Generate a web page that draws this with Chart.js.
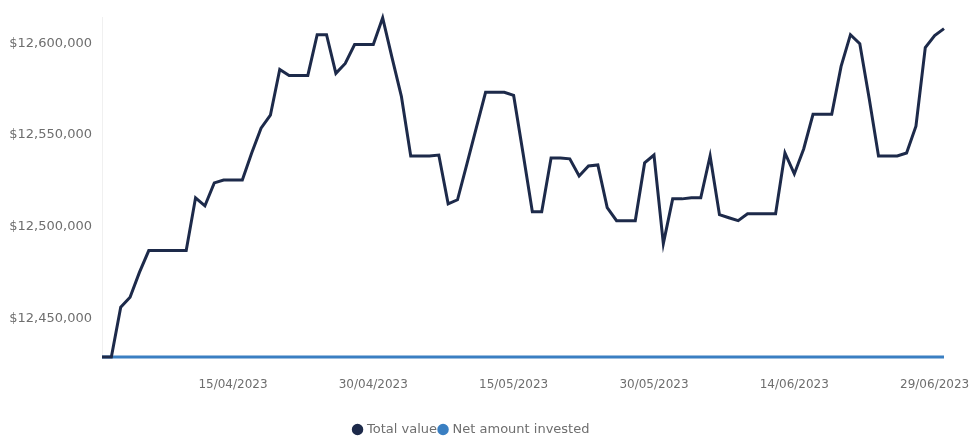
<!DOCTYPE html>
<html>
<head>
<meta charset="utf-8">
<script src="https://cdn.jsdelivr.net/npm/chart.js@4.4.0/dist/chart.umd.min.js"></script>
<style>
  html, body { margin: 0; padding: 0; background: #fff; overflow: hidden; }
  .chart-wrap { position: relative; width: 971px; height: 446px; }
</style>
</head>
<body>
<div class="chart-wrap"><canvas id="valueChart"></canvas></div>
<script>
const dates = [
    '01/04/2023', '02/04/2023', '03/04/2023', '04/04/2023', '05/04/2023', '06/04/2023', '07/04/2023', '08/04/2023', '09/04/2023', '10/04/2023',
    '11/04/2023', '12/04/2023', '13/04/2023', '14/04/2023', '15/04/2023', '16/04/2023', '17/04/2023', '18/04/2023', '19/04/2023', '20/04/2023',
    '21/04/2023', '22/04/2023', '23/04/2023', '24/04/2023', '25/04/2023', '26/04/2023', '27/04/2023', '28/04/2023', '29/04/2023', '30/04/2023',
    '01/05/2023', '02/05/2023', '03/05/2023', '04/05/2023', '05/05/2023', '06/05/2023', '07/05/2023', '08/05/2023', '09/05/2023', '10/05/2023',
    '11/05/2023', '12/05/2023', '13/05/2023', '14/05/2023', '15/05/2023', '16/05/2023', '17/05/2023', '18/05/2023', '19/05/2023', '20/05/2023',
    '21/05/2023', '22/05/2023', '23/05/2023', '24/05/2023', '25/05/2023', '26/05/2023', '27/05/2023', '28/05/2023', '29/05/2023', '30/05/2023',
    '31/05/2023', '01/06/2023', '02/06/2023', '03/06/2023', '04/06/2023', '05/06/2023', '06/06/2023', '07/06/2023', '08/06/2023', '09/06/2023',
    '10/06/2023', '11/06/2023', '12/06/2023', '13/06/2023', '14/06/2023', '15/06/2023', '16/06/2023', '17/06/2023', '18/06/2023', '19/06/2023',
    '20/06/2023', '21/06/2023', '22/06/2023', '23/06/2023', '24/06/2023', '25/06/2023', '26/06/2023', '27/06/2023', '28/06/2023', '29/06/2023',
    '30/06/2023'
];

const shownDates = ['15/04/2023', '30/04/2023', '15/05/2023', '30/05/2023', '14/06/2023', '29/06/2023'];
const yTicks = [12450000, 12500000, 12550000, 12600000];

const totalValue = [
    12429000, 12429000, 12456100, 12461600, 12475100, 12487000, 12487000, 12487000, 12487000, 12487000,
    12515800, 12511400, 12523900, 12525500, 12525500, 12525500, 12540200, 12553700, 12560800, 12585700,
    12582500, 12582500, 12582500, 12604700, 12604700, 12583600, 12589000, 12599300, 12599300, 12599300,
    12613900, 12592200, 12571100, 12538600, 12538600, 12538600, 12539100, 12512500, 12514700, 12534200,
    12553700, 12573300, 12573300, 12573300, 12571600, 12540200, 12508200, 12508200, 12537500, 12537500,
    12537000, 12527700, 12533100, 12533700, 12510400, 12503300, 12503300, 12503300, 12534800, 12539100,
    12490800, 12515200, 12515200, 12515800, 12515800, 12538600, 12506600, 12504900, 12503300, 12507100,
    12507100, 12507100, 12507100, 12540200, 12528800, 12542400, 12561300, 12561300, 12561300, 12587400,
    12604700, 12599800, 12570000, 12538600, 12538600, 12538600, 12540200, 12554800, 12597700, 12604200,
    12608000
];

const netInvested = [
    12429000, 12429000, 12429000, 12429000, 12429000, 12429000, 12429000, 12429000, 12429000, 12429000,
    12429000, 12429000, 12429000, 12429000, 12429000, 12429000, 12429000, 12429000, 12429000, 12429000,
    12429000, 12429000, 12429000, 12429000, 12429000, 12429000, 12429000, 12429000, 12429000, 12429000,
    12429000, 12429000, 12429000, 12429000, 12429000, 12429000, 12429000, 12429000, 12429000, 12429000,
    12429000, 12429000, 12429000, 12429000, 12429000, 12429000, 12429000, 12429000, 12429000, 12429000,
    12429000, 12429000, 12429000, 12429000, 12429000, 12429000, 12429000, 12429000, 12429000, 12429000,
    12429000, 12429000, 12429000, 12429000, 12429000, 12429000, 12429000, 12429000, 12429000, 12429000,
    12429000, 12429000, 12429000, 12429000, 12429000, 12429000, 12429000, 12429000, 12429000, 12429000,
    12429000, 12429000, 12429000, 12429000, 12429000, 12429000, 12429000, 12429000, 12429000, 12429000,
    12429000
];

const xFont = { family: "'DejaVu Sans', sans-serif", size: 12 };
const yFont = { family: "'DejaVu Sans', sans-serif", size: 13 };
const tickColor = '#6e6e6e';

const ctx = document.getElementById('valueChart').getContext('2d');
new Chart(ctx, {
    type: 'line',
    data: {
        labels: dates,
        datasets: [
            { label: 'Total value', data: totalValue, borderColor: '#1d2a4a', backgroundColor: '#1d2a4a', borderWidth: 3, pointRadius: 0, tension: 0, clip: false },
            { label: 'Net amount invested', data: netInvested, borderColor: '#3a7fc2', backgroundColor: '#3a7fc2', borderWidth: 3, pointRadius: 0, tension: 0, clip: false }
        ]
    },
    options: {
        responsive: true, maintainAspectRatio: false, animation: false,
        layout: { padding: { top: 16, right: 27, left: 0, bottom: 0 } },
        plugins: {
            tooltip: { enabled: false },
            legend: {
                position: 'bottom',
                labels: { usePointStyle: true, pointStyle: 'circle', boxWidth: 6, boxHeight: 6, padding: 3, color: tickColor, font: yFont }
            }
        },
        scales: {
            x: {
                grid: { display: false, drawTicks: false },
                border: { display: false },
                afterFit: s => { s.height = 63; },
                ticks: {
                    autoSkip: false, maxRotation: 0, padding: 21, color: tickColor, font: xFont,
                    callback: function(value) {
                        const d = this.getLabelForValue(value);
                        return shownDates.includes(d) ? d : '';
                    }
                }
            },
            y: {
                min: Math.min(...netInvested, ...totalValue),
                max: Math.max(...totalValue),
                grid: { display: false, drawTicks: false },
                border: { display: true, color: '#f0f0f0' },
                afterFit: s => { s.width = 102; },
                afterBuildTicks: s => { s.ticks = yTicks.map(v => ({ value: v })); },
                ticks: {
                    padding: 10, color: tickColor, font: yFont,
                    callback: v => '$' + Number(v).toLocaleString('en-US')
                }
            }
        }
    }
});
</script>
</body>
</html>
